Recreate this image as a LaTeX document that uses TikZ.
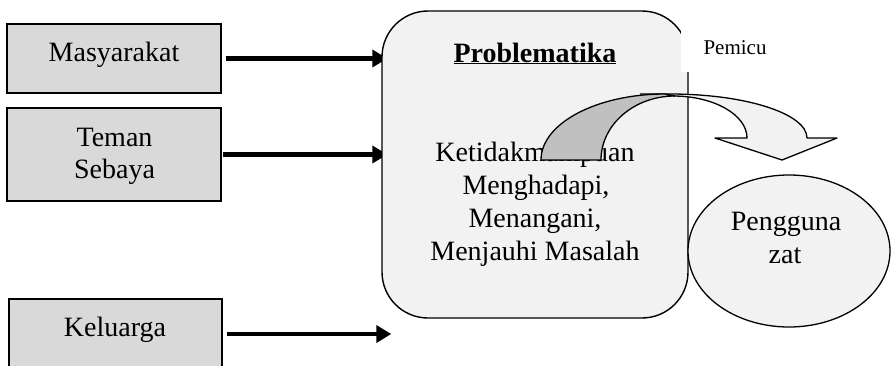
\documentclass[tikz,border=0pt]{standalone}
\usepackage{fontspec}
\setmainfont{Liberation Serif}
\usetikzlibrary{arrows.meta,shapes.geometric,backgrounds}
\definecolor{srcgray}{HTML}{D9D9D9}
\definecolor{panel}{HTML}{F2F2F2}
\definecolor{bandshade}{HTML}{C0C0C0}
\begin{document}
\begin{tikzpicture}[x=1pt,y=-1pt,
  srcbox/.style={draw=black, line width=1.1pt, fill=srcgray, minimum width=214pt, inner sep=0pt},
  lbl/.style={font=\fontsize{28}{33}\selectfont, anchor=base, inner sep=0pt},
  smalllbl/.style={font=\fontsize{21}{25}\selectfont, anchor=base, inner sep=0pt},
  flow/.style={line width=4.5pt, -{Triangle[length=15pt,width=17pt]}},
  band/.style={draw=black, line width=1.3pt, line join=round},
]
\useasboundingbox (0,0) rectangle (891,365);
\clip (0,0) rectangle (891,365);

% source boxes
\node[srcbox, minimum height=69pt] (masy) at (114,58.5) {};
\node[srcbox, minimum height=93pt] (teman) at (114,154.5) {};
\node[srcbox, minimum width=213pt, minimum height=70pt] (kel) at (115.5,334) {};
\node[lbl] (masyt) at (114,61) {Masyarakat};
\node[lbl] (temant1) at (114.5,146) {Teman};
\node[lbl] (temant2) at (114.5,178) {Sebaya};
\node[lbl] (kelt) at (115,336) {Keluarga};

% central panel
\node[draw=black, line width=1.4pt, fill=panel, rounded corners=46pt,
      minimum width=306pt, minimum height=307pt, inner sep=0pt] (prob) at (535,164.5) {};

% label area covering the panel corner
\node[fill=white, inner sep=0pt, minimum width=110pt, minimum height=72pt] (pemicubg) at (736,36) {};
\node[smalllbl] (pemicu) at (735,54) {Pemicu};

% outcome ellipse
\node[ellipse, draw=black, line width=1.3pt, fill=panel,
      minimum width=202pt, minimum height=152pt, inner sep=0pt] (peng) at (789,251) {};
\node[lbl] (pengt1) at (786,230) {Pengguna};
\node[lbl] (pengt2) at (785,263) {zat};

% panel texts
\node[lbl] (probt) at (535,62) {\underline{\textbf{Problematika}}};
\node[lbl] (l1) at (535,161) {Ketidakmampuan};
\node[lbl] (l2) at (536,194) {Menghadapi,};
\node[lbl] (l3) at (535,227) {Menangani,};
\node[lbl] (l4) at (535,260) {Menjauhi Masalah};

% influence arrows, behind the panel
\begin{scope}[on background layer]
\draw[flow] ([xshift=4pt]masy.east) -- ([xshift=6pt]prob.west |- masy.east);
\draw[flow] ([xshift=1pt]teman.east) -- ([xshift=6pt]prob.west |- teman.east);
\draw[flow] ([xshift=4pt]kel.east) -- ([xshift=10pt]prob.west |- kel.east);
\end{scope}

% curved trigger arrow: front band with head
\fill[panel] (640,94) -- (670,94)
  .. controls (745.7,94) and (807,113.7) .. (807,138)
  -- (837,138) -- (782,160) -- (715,138) -- (747,138)
  .. controls (747,114.8) and (713.9,96) .. (673,96) -- cycle;
\draw[band] (640,94) -- (670,94)
  .. controls (745.7,94) and (807,113.7) .. (807,138)
  -- (837,138) -- (782,160) -- (715,138) -- (747,138)
  .. controls (747,114.8) and (713.9,96) .. (673,96);
% shaded back of the band
\draw[band, fill=bandshade] (541,160)
  .. controls (541,123.5) and (596.5,94) .. (665,94)
  -- (675,96)
  .. controls (634.1,96) and (601,124.7) .. (601,160) -- cycle;
\end{tikzpicture}
\end{document}
